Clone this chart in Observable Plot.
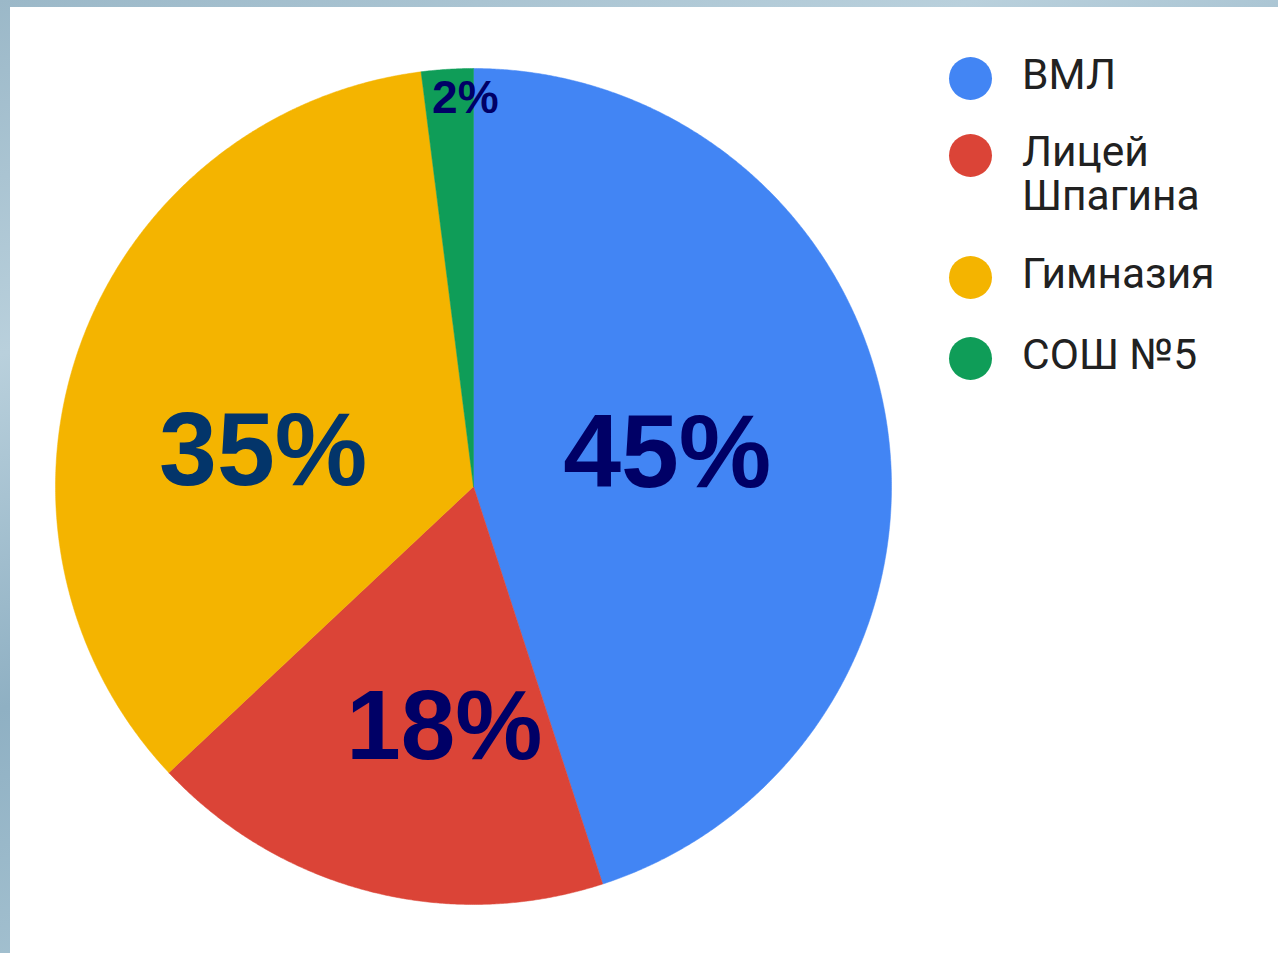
<!DOCTYPE html>
<html>
<head>
<meta charset="utf-8">
<script src="https://cdn.jsdelivr.net/npm/d3@7"></script>
<script src="https://cdn.jsdelivr.net/npm/@observablehq/plot@0.6"></script>
<style>
  html, body { margin: 0; padding: 0; }
  body {
    width: 1278px; height: 953px; overflow: hidden; position: relative;
    background: linear-gradient(160deg, #9bb8c8 0%, #b9d0dc 25%, #8fb0c3 50%, #a9c5d3 75%, #8aaabd 100%);
    font-family: Roboto, "Liberation Sans", sans-serif;
  }
  #panel {
    position: absolute; left: 10px; top: 7px; width: 1268px; height: 946px;
    background: #ffffff;
  }
  #chart { position: absolute; left: 0; top: 0; }
  #legend { position: absolute; left: 0; top: 0; }
  .item { position: absolute; left: 940px; }
  .sw { position: absolute; left: -1px; top: 0; width: 43px; height: 43px; border-radius: 50%; }
  .lbl { position: absolute; left: 72px; font-size: 42.5px; line-height: 44px; color: #212121; white-space: nowrap; }
</style>
</head>
<body>
<div id="panel">
  <div id="chart"></div>
  <div id="legend"></div>
</div>
<script>
// ---- data ----
const names = ["ВМЛ", "Лицей Шпагина", "Гимназия", "СОШ №5"];
const legendLines = [["ВМЛ"], ["Лицей", "Шпагина"], ["Гимназия"], ["СОШ №5"]];
const values = [45, 18, 35, 2];
const labels = ["45%", "18%", "35%", "2%"];
const colors = ["#4285f4", "#db4437", "#f4b400", "#0f9d58"];

// ---- layout / style (not data) ----
const W = 1268, H = 946;
const cx = 463, cy = 479, R = 418;
const labelStyle = [
  {r: 0.47, da: -0.6, size: 104, color: "#000066"},
  {r: 0.58, da: -7.5, size: 98, color: "#000066"},
  {r: 0.51, da: -10.5, size: 104, color: "#03356a"},
  {r: 0.93, da: 2.4, size: 46, color: "#000066"}
];

// ---- geometry from data ----
const total = d3.sum(values);
const cum = d3.cumsum(values);
const slices = values.map((v, i) => {
  const a0 = ((cum[i] - v) / total) * 2 * Math.PI;
  const a1 = (cum[i] / total) * 2 * Math.PI;
  return {name: names[i], a0, a1, color: colors[i]};
});
const polys = slices.map(s => {
  const pts = [{x: 0, y: 0}];
  const n = Math.max(4, Math.ceil((s.a1 - s.a0) / 0.005));
  for (let k = 0; k <= n; k++) {
    const a = s.a0 + (s.a1 - s.a0) * k / n;
    pts.push({x: Math.sin(a), y: Math.cos(a)});
  }
  pts.push({x: 0, y: 0});
  return pts;
});
const labelData = slices.map((s, i) => {
  const a = (s.a0 + s.a1) / 2 + labelStyle[i].da * Math.PI / 180;
  return {x: labelStyle[i].r * Math.sin(a), y: labelStyle[i].r * Math.cos(a), text: labels[i], i};
});

const marks = [];
polys.forEach((pts, i) => {
  marks.push(Plot.line(pts, {x: "x", y: "y", fill: colors[i], stroke: colors[i], strokeWidth: 0.5, curve: "linear"}));
});
labelData.forEach(d => {
  marks.push(Plot.text([d], {
    x: "x", y: "y", text: "text",
    fontSize: labelStyle[d.i].size, fontWeight: "bold",
    fontFamily: "'Liberation Sans', Arial, sans-serif",
    fill: labelStyle[d.i].color
  }));
});

const plot = Plot.plot({
  width: W, height: H,
  marginLeft: cx - R, marginRight: W - (cx + R),
  marginTop: cy - R, marginBottom: H - (cy + R),
  x: {domain: [-1, 1], axis: null},
  y: {domain: [-1, 1], axis: null},
  style: {background: "transparent", overflow: "visible"},
  marks
});
document.getElementById("chart").appendChild(plot);

// ---- legend ----
const legendTops = [50, 127, 249, 330];
const leg = document.getElementById("legend");
names.forEach((n, i) => {
  const item = document.createElement("div");
  item.className = "item";
  item.style.top = legendTops[i] + "px";
  const sw = document.createElement("div");
  sw.className = "sw";
  sw.style.background = colors[i];
  item.appendChild(sw);
  const lb = document.createElement("div");
  lb.className = "lbl";
  lb.style.top = "-4px";
  lb.innerHTML = legendLines[i].join("<br>");
  item.appendChild(lb);
  leg.appendChild(item);
});
</script>
</body>
</html>
